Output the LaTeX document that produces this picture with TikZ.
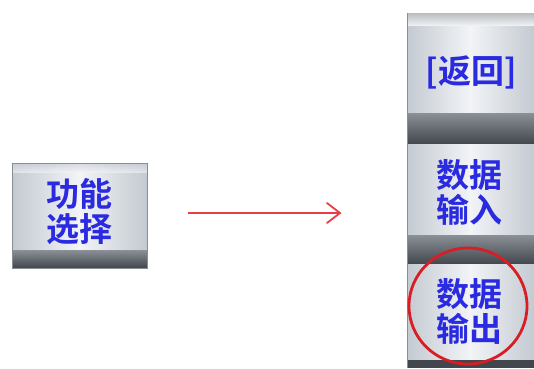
\documentclass[tikz,border=0pt]{standalone}
\usepackage{fontspec}
\newfontfamily\cjk{Noto Sans CJK SC Bold}
\definecolor{txtblue}{HTML}{2A2AE0}
\definecolor{bodylight}{HTML}{F2F4F6}
\definecolor{bodyedge}{HTML}{C4CAD2}
\definecolor{darkband}{HTML}{41474C}
\definecolor{midband}{HTML}{8A9096}
\definecolor{arrowred}{HTML}{E83C46}
\definecolor{circred}{HTML}{D81E24}
\tikzset{
  btext/.style={font=\cjk\fontsize{33}{35}\selectfont, text=txtblue, align=center, inner sep=0pt},
  bodyshade/.style={left color=bodyedge, right color=bodyedge, middle color=bodylight},
  bandshade/.style={top color=midband, bottom color=darkband},
}
\begin{document}
\begin{tikzpicture}[x=1pt,y=-1pt]
\useasboundingbox (0,0) rectangle (534,368);
% left button
\shade[bodyshade] (12,163) rectangle (147,252);
\shade[top color=bodyedge, bottom color=bodylight, opacity=0.6] (12,163) rectangle (147,172);
\shade[bandshade] (12,250) rectangle (147,268);
\draw[bodyedge!70!black, line width=0.6pt] (12,163) rectangle (147,268);
\node[btext] (fsel) at (79,212) {功能\\选择};
% right column
\shade[top color=midband!60, bottom color=bodylight] (407,13) rectangle (534,26);
\shade[bodyshade] (407,26) rectangle (534,114);
\shade[bandshade] (407,113) rectangle (534,144);
\shade[bodyshade] (407,144) rectangle (534,236);
\shade[bandshade] (407,235) rectangle (534,264);
\shade[bodyshade] (407,264) rectangle (534,362);
\fill[darkband] (407,360) rectangle (534,368);
\draw[bodyedge!70!black, line width=0.6pt] (407,13) -- (407,368);
\node[btext] (ret) at (471,72) {[返回]};
\node[btext] (din) at (469,192) {数据\\输入};
\node[btext] (dout) at (469,311) {数据\\输出};
% red circle
\draw[circred, line width=2.8pt] (468,306) ellipse (59 and 58);
% arrow
\coordinate (astart) at (188,213);
\coordinate (aend) at (340,213);
\draw[arrowred, line width=2pt] (astart) -- (aend);
\draw[arrowred, line width=1.8pt, line cap=round] (327,203) -- (aend) -- (327,223);
\end{tikzpicture}
\end{document}
